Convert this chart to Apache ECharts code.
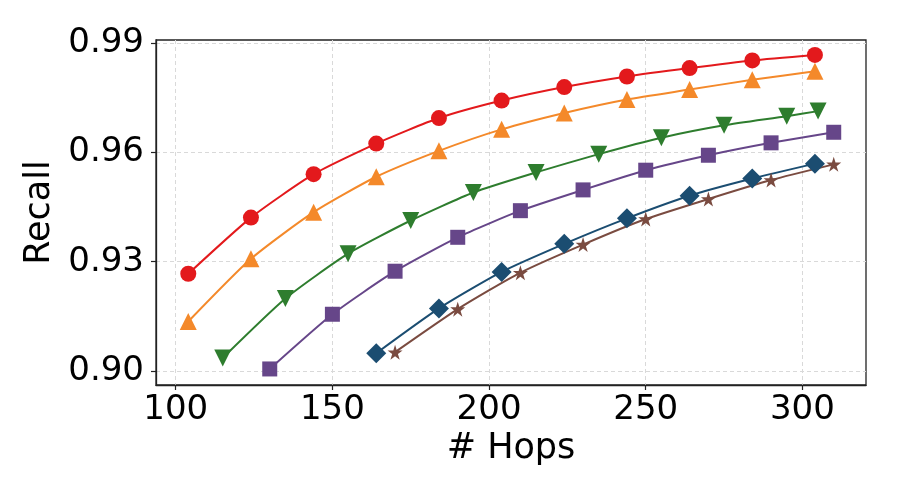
<!DOCTYPE html>
<html>
<head>
<meta charset="utf-8">
<script src="https://cdn.jsdelivr.net/npm/echarts@6/dist/echarts.min.js"></script>
<style>html,body{margin:0;padding:0;background:#fff;}#c{width:897px;height:498px;}</style>
</head>
<body>
<div id="c"></div>
<script>
// ---- data ----
const xTicks = [100, 150, 200, 250, 300];
const yTicks = [0.90, 0.93, 0.96, 0.99];

const redX = [104, 124, 144, 164, 184, 204, 224, 244, 264, 284, 304];
const redY = [0.9267, 0.9421, 0.9540, 0.9624, 0.9694, 0.9742, 0.9779, 0.9808, 0.9831, 0.9852, 0.9867];

const orangeX = [104, 124, 144, 164, 184, 204, 224, 244, 264, 284, 304];
const orangeY = [0.9136, 0.9308, 0.9436, 0.9533, 0.9604, 0.9663, 0.9708, 0.9745, 0.9772, 0.9799, 0.9822];

const greenX = [115, 135, 155, 175, 195, 215, 235, 255, 275, 295, 305];
const greenY = [0.9036, 0.9199, 0.9322, 0.9413, 0.9490, 0.9545, 0.9595, 0.9640, 0.9674, 0.9699, 0.9713];

const purpleX = [130, 150, 170, 190, 210, 230, 250, 270, 290, 310];
const purpleY = [0.9006, 0.9156, 0.9274, 0.9367, 0.9440, 0.9497, 0.9551, 0.9592, 0.9626, 0.9655];

const blueX = [164, 184, 204, 224, 244, 264, 284, 304];
const blueY = [0.9049, 0.9172, 0.9272, 0.9349, 0.9419, 0.9481, 0.9528, 0.9569];

const brownX = [170, 190, 210, 230, 250, 270, 290, 310];
const brownY = [0.9052, 0.9170, 0.9270, 0.9347, 0.9417, 0.9472, 0.9524, 0.9567];

// ---- chart ----
const FONT = 'DejaVu Sans';
const star = 'path://M50,0 L61.8,36.2 L100,36.2 L69.1,58.8 L80.9,95.1 L50,72.7 L19.1,95.1 L30.9,58.8 L0,36.2 L38.2,36.2 Z';

function zip(xs, ys) { return xs.map((x, i) => [x, ys[i]]); }

function mk(name, xs, ys, color, symbol, size, rotate) {
  return {
    name: name, type: 'line', data: zip(xs, ys),
    smooth: 0.2, symbol: symbol, symbolSize: size, symbolRotate: rotate || 0,
    showAllSymbol: true,
    lineStyle: { color: color, width: 2 },
    itemStyle: { color: color, borderWidth: 0 },
    emphasis: { disabled: true },
    animation: false
  };
}

const chart = echarts.init(document.getElementById('c'), null, { renderer: 'canvas' });
chart.setOption({
  animation: false,
  backgroundColor: '#fff',
  grid: { left: 156, right: 31, top: 40, bottom: 113, show: true, borderColor: '#222', borderWidth: 1.3, backgroundColor: 'transparent' },
  xAxis: {
    type: 'value', min: 93.7, max: 320.3,
    name: '# Hops', nameLocation: 'middle', nameGap: 44,
    nameTextStyle: { fontFamily: FONT, fontSize: 35, color: '#000' },
    axisLine: { show: true, onZero: false, lineStyle: { color: '#222', width: 1.3 } },
    axisTick: { show: true, length: 5, lineStyle: { color: '#222', width: 1.2 }, customValues: xTicks },
    axisLabel: { fontFamily: FONT, fontSize: 34, color: '#000', margin: 8, customValues: xTicks },
    splitLine: { show: true, lineStyle: { color: '#d9d9d9', type: [4, 3], width: 1 } }
  },
  yAxis: {
    type: 'value', min: 0.8962, max: 0.9908,
    name: 'Recall', nameLocation: 'middle', nameGap: 93, nameRotate: 90,
    nameTextStyle: { fontFamily: FONT, fontSize: 35, color: '#000' },
    axisLine: { show: true, onZero: false, lineStyle: { color: '#222', width: 1.3 } },
    axisTick: { show: true, length: 5, lineStyle: { color: '#222', width: 1.2 }, customValues: yTicks },
    axisLabel: { fontFamily: FONT, fontSize: 34, color: '#000', margin: 12, customValues: yTicks,
      formatter: v => v.toFixed(2) },
    splitLine: { show: true, lineStyle: { color: '#d9d9d9', type: [4, 3], width: 1 } }
  },
  series: [
    mk('red', redX, redY, '#e3191c', 'circle', 16),
    mk('orange', orangeX, orangeY, '#f4892a', 'triangle', 17),
    mk('green', greenX, greenY, '#2e7d2e', 'triangle', 17, 180),
    mk('purple', purpleX, purpleY, '#664689', 'rect', 15),
    mk('blue', blueX, blueY, '#1b4d71', 'diamond', 20),
    mk('brown', brownX, brownY, '#7a4b40', star, 15)
  ]
});
</script>
</body>
</html>
